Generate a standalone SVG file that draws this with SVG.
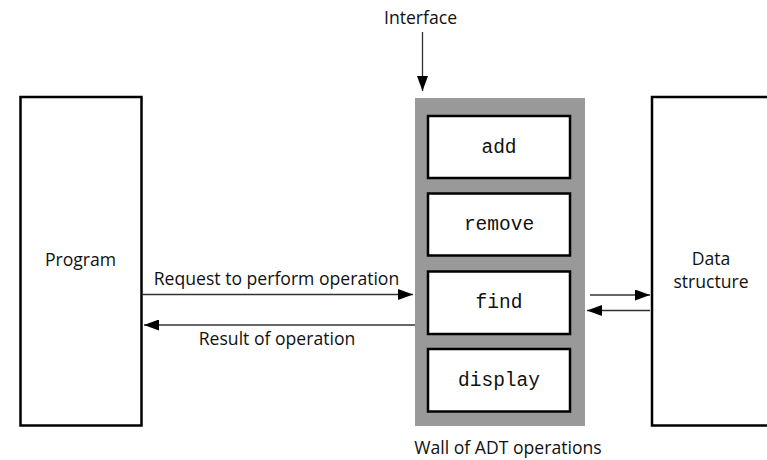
<svg xmlns="http://www.w3.org/2000/svg" width="767" height="460" viewBox="0 0 767 460">
<style>
.box{fill:#fff;stroke:#000;stroke-width:2.5}
.op{fill:#fff;stroke:#000;stroke-width:2.5}
.lbl{font-family:"Open Sans","Liberation Sans",sans-serif;font-size:17.6px;fill:#111}
.mono{font-family:"Liberation Mono","Courier New",monospace;font-size:19.5px;fill:#111}
.conn{stroke:#333;stroke-width:1.3;fill:none}
</style>
<defs>
<marker id="ah" markerUnits="userSpaceOnUse" markerWidth="15" markerHeight="11" refX="15" refY="5.5" orient="auto">
<path d="M0,0 L15,5.5 L0,11 z" fill="#000"/>
</marker>
</defs>
<rect width="767" height="460" fill="#fff"/>
<g id="program">
<rect class="box" x="20.5" y="97" width="121" height="328.5"/>
<text class="lbl" x="80.5" y="266" text-anchor="middle">Program</text>
</g>
<g id="data-structure">
<rect class="box" x="652" y="97" width="130" height="328.5"/>
<text class="lbl" x="711" y="265" text-anchor="middle">Data</text>
<text class="lbl" x="711" y="288" text-anchor="middle">structure</text>
</g>
<g id="wall">
<rect x="415" y="98" width="170" height="328" fill="#999"/>
<text class="lbl" x="508" y="454" text-anchor="middle">Wall of ADT operations</text>
</g>
<g id="op-add">
<rect class="op" x="428" y="116" width="142" height="62"/>
<text class="mono" x="499" y="152.5" text-anchor="middle">add</text>
</g>
<g id="op-remove">
<rect class="op" x="428" y="193.5" width="142" height="62"/>
<text class="mono" x="499" y="230" text-anchor="middle">remove</text>
</g>
<g id="op-find">
<rect class="op" x="428" y="271.5" width="142" height="62.5"/>
<text class="mono" x="499" y="308" text-anchor="middle">find</text>
</g>
<g id="op-display">
<rect class="op" x="428" y="349" width="142" height="62.5"/>
<text class="mono" x="499" y="386" text-anchor="middle">display</text>
</g>
<g id="interface-label">
<text class="lbl" x="420.5" y="24" text-anchor="middle">Interface</text>
</g>
<g id="connectors">
<line class="conn" x1="422.5" y1="32" x2="422.5" y2="91" marker-end="url(#ah)"/>
<line class="conn" x1="142" y1="294.5" x2="413" y2="294.5" marker-end="url(#ah)"/>
<line class="conn" x1="415" y1="325" x2="144" y2="325" marker-end="url(#ah)"/>
<line class="conn" x1="590" y1="295" x2="650" y2="295" marker-end="url(#ah)"/>
<line class="conn" x1="650" y1="310.5" x2="587" y2="310.5" marker-end="url(#ah)"/>
<text class="lbl" x="276.5" y="285" text-anchor="middle">Request to perform operation</text>
<text class="lbl" x="277" y="345" text-anchor="middle">Result of operation</text>
</g>
</svg>
